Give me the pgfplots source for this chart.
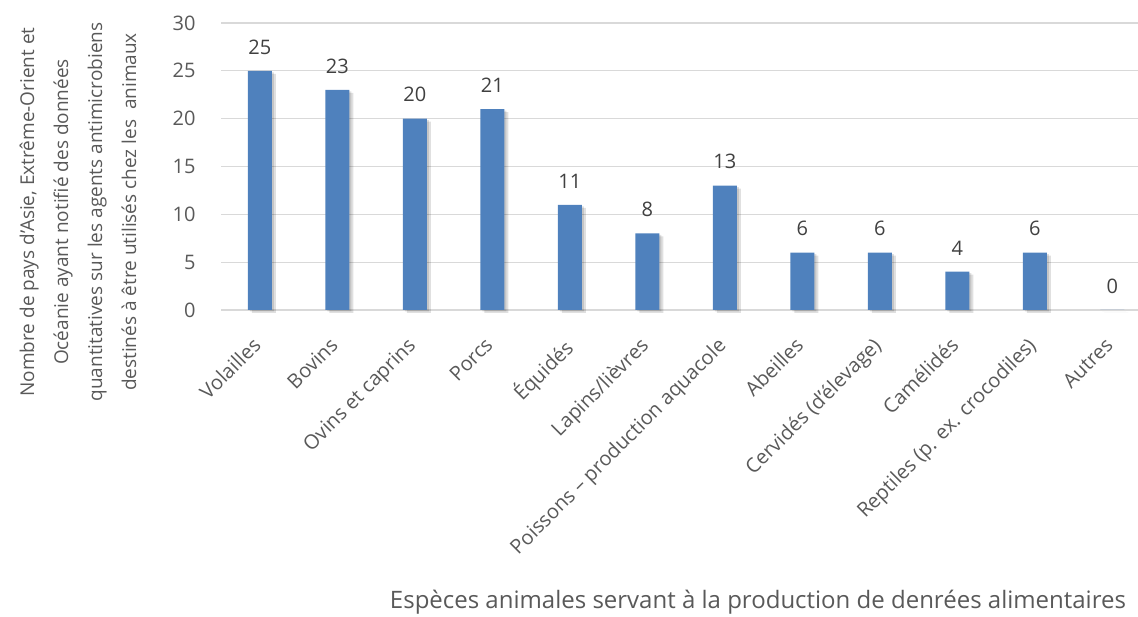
\documentclass[border=0pt]{standalone}
\usepackage{pgfplots}
\pgfplotsset{compat=1.18}
\usepackage{fontspec}
\setmainfont{Open Sans}
\definecolor{barblue}{HTML}{4F81BD}
\definecolor{txt}{HTML}{595959}
\definecolor{gridc}{HTML}{D9D9D9}
\begin{document}
\begin{tikzpicture}
\useasboundingbox (0,0) rectangle (1138pt,616pt);
\begin{axis}[
  at={(221pt,306pt)}, anchor=south west,
  scale only axis, width=917pt, height=287pt,
  ymin=0, ymax=30, ytick={0,5,...,30},
  xmin=-0.5, xmax=11.33,
  xtick={0,...,11},
  xticklabels={Volailles, Bovins, Ovins et caprins, Porcs, Équidés, Lapins/lièvres, Poissons – production aquacole, Abeilles, Cervidés (d’élevage), Camélidés, Reptiles (p. ex. crocodiles), Autres},
  axis line style={draw=none},
  ymajorgrids, major grid style={draw=gridc, line width=1.3pt},
  tick style={draw=none},
  /pgf/number format/assume math mode=true,
  yticklabel style={font=\fontsize{20}{22}\selectfont, text=txt, xshift=-22pt},
  xticklabel style={rotate=45, anchor=north east, font=\fontsize{20}{22}\selectfont, text=txt, yshift=-6pt, xshift=-18pt},
  clip=false,
  ybar, bar width=24pt,
]
\addplot[fill=black, opacity=0.12, draw=none, bar shift=4pt, yshift=-3pt] coordinates {(0,25) (1,23) (2,20) (3,21) (4,11) (5,8) (6,13) (7,6) (8,6) (9,4) (10,6) (11,0)};
\addplot[fill=black, opacity=0.12, draw=none, bar shift=2pt, yshift=-1.5pt] coordinates {(0,25) (1,23) (2,20) (3,21) (4,11) (5,8) (6,13) (7,6) (8,6) (9,4) (10,6) (11,0)};
\addplot[fill=barblue, draw=none, bar shift=0pt,
  nodes near coords,
  nodes near coords style={font=\fontsize{20}{22}\selectfont, text=black!75, yshift=13pt},
  ] coordinates {(0,25) (1,23) (2,20) (3,21) (4,11) (5,8) (6,13) (7,6) (8,6) (9,4) (10,6) (11,0)};
\end{axis}
\node[rotate=90, align=center, text=txt, font=\fontsize{19}{34}\selectfont] at (78pt,404pt) {Nombre de pays d’Asie, Extrême-Orient et\\Océanie ayant notifié des données\\quantitatives sur les agents antimicrobiens\\destinés à être utilisés chez les\ \ animaux};
\node[text=txt, font=\fontsize{24}{28}\selectfont, anchor=base] at (758pt,8pt) {Espèces animales servant à la production de denrées alimentaires};
\end{tikzpicture}
\end{document}
